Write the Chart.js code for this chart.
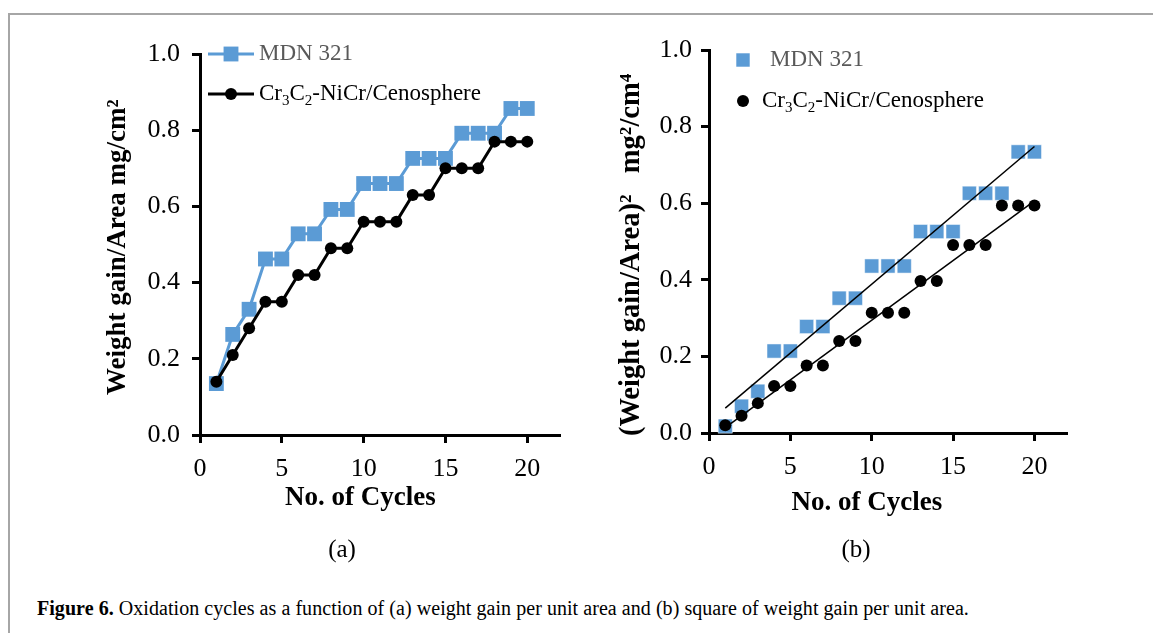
<!DOCTYPE html>
<html>
<head>
<meta charset="utf-8">
<script src="https://cdn.jsdelivr.net/npm/chart.js@4.4.1/dist/chart.umd.min.js"></script>
<style>
body { margin: 0; background: #fff; width: 1153px; height: 633px; overflow: hidden; position: relative; font-family: "Liberation Serif", serif; }
#frame { position: absolute; left: 8px; top: 13px; width: 1300px; height: 800px; border-top: 2px solid #a6a6a6; border-left: 2px solid #a6a6a6; }
#chartA { position: absolute; left: 0; top: 0; }
#chartB { position: absolute; left: 590px; top: 0; }
.sub { position: absolute; top: 535px; font-size: 25px; width: 60px; text-align: center; }
#caption { position: absolute; left: 37px; top: 597px; font-family: "Liberation Serif", serif; font-size: 20px; white-space: nowrap; letter-spacing: 0.05px; }
</style>
</head>
<body>
<div id="frame"></div>
<canvas id="chartA" width="580" height="540"></canvas>
<canvas id="chartB" width="490" height="540"></canvas>
<div class="sub" style="left:312px">(a)</div>
<div class="sub" style="left:826px">(b)</div>
<div id="caption"><b>Figure 6.</b> Oxidation cycles as a function of (a) weight gain per unit area and (b) square of weight gain per unit area.</div>
<script>
// values
var cycles = [1, 2, 3, 4, 5, 6, 7, 8, 9, 10, 11, 12, 13, 14, 15, 16, 17, 18, 19, 20];
var mdnGain = [0.135, 0.264, 0.33, 0.462, 0.462, 0.528, 0.528, 0.592, 0.592, 0.66, 0.66, 0.66, 0.726, 0.726, 0.726, 0.792, 0.792, 0.792, 0.857, 0.857];
var cenoGain = [0.14, 0.21, 0.28, 0.35, 0.35, 0.42, 0.42, 0.49, 0.49, 0.56, 0.56, 0.56, 0.63, 0.63, 0.70, 0.70, 0.70, 0.77, 0.77, 0.77];
var mdnGainSq = [0.018, 0.07, 0.109, 0.214, 0.214, 0.278, 0.278, 0.352, 0.352, 0.436, 0.436, 0.436, 0.526, 0.526, 0.526, 0.626, 0.626, 0.626, 0.734, 0.734];
var cenoGainSq = [0.02, 0.045, 0.078, 0.123, 0.123, 0.176, 0.176, 0.24, 0.24, 0.314, 0.314, 0.314, 0.397, 0.397, 0.491, 0.491, 0.491, 0.594, 0.594, 0.594];
var mdnTrendX = [1, 20];
var mdnTrendY = [0.065, 0.748];
var cenoTrendX = [1, 20];
var cenoTrendY = [0.014, 0.606];
var xTicks = [0, 5, 10, 15, 20];
var yTicks = [0, 0.2, 0.4, 0.6, 0.8, 1.0];
var mdnLabel = 'MDN 321';
var cenoLabel = [['Cr'], ['3', true], ['C'], ['2', true], ['-NiCr/Cenosphere']];
var xTitle = 'No. of Cycles';
var yTitleA = 'Weight gain/Area mg/cm\u00b2';
var yTitleB = '(Weight gain/Area)\u00b2   mg\u00b2/cm\u2074';

var BLUE = '#5b9bd5';
var FONT = 'Liberation Serif';

function pts(xs, ys) {
    return xs.map(function(x, i) { return {x: x, y: ys[i]}; });
}

function marker(ctx, style, x, y, r, color) {
    ctx.fillStyle = color;
    ctx.beginPath();
    if (style === 'rect') {
        var s = r * Math.SQRT1_2;
        ctx.rect(x - s, y - s, 2 * s, 2 * s);
    } else {
        ctx.arc(x, y, r, 0, Math.PI * 2);
    }
    ctx.fill();
}

function richText(ctx, parts, x, y, size, color) {
    ctx.fillStyle = color;
    ctx.textBaseline = 'middle';
    ctx.textAlign = 'left';
    parts.forEach(function(p) {
        if (p[1]) {
            ctx.font = Math.round(size * 0.65) + 'px "' + FONT + '"';
            ctx.fillText(p[0], x, y + size * 0.3);
        } else {
            ctx.font = size + 'px "' + FONT + '"';
            ctx.fillText(p[0], x, y);
        }
        x += ctx.measureText(p[0]).width;
    });
}

// legend drawn inside the plot, items placed relative to the chart area
var legendPlugin = {
    id: 'innerLegend',
    afterDraw: function(chart, args, opts) {
        var ctx = chart.ctx, a = chart.chartArea;
        ctx.save();
        opts.items.forEach(function(it) {
            var x = a.left + it.dx, y = a.top + it.dy;
            if (it.line) {
                ctx.strokeStyle = it.color;
                ctx.lineWidth = 3;
                ctx.beginPath();
                ctx.moveTo(x - 23, y);
                ctx.lineTo(x + 23, y);
                ctx.stroke();
            }
            marker(ctx, it.style, x, y, it.radius, it.color);
            richText(ctx, it.parts, a.left + it.tx, y, 23, it.textColor);
        });
        ctx.restore();
    }
};

// axis titles, placed through the scales
var titlePlugin = {
    id: 'axisTitles',
    afterDraw: function(chart, args, o) {
        var ctx = chart.ctx, xs = chart.scales.x, ys = chart.scales.y;
        ctx.save();
        ctx.fillStyle = '#000';
        ctx.textAlign = 'center';
        ctx.textBaseline = 'middle';
        ctx.font = 'bold 27px "' + FONT + '"';
        ctx.fillText(o.xText, xs.getPixelForValue(o.xAt), chart.chartArea.bottom + o.xGap);
        ctx.font = 'bold ' + o.ySize + 'px "' + FONT + '"';
        ctx.translate(o.yLeft, ys.getPixelForValue(o.yAt));
        ctx.rotate(-Math.PI / 2);
        ctx.fillText(o.yText, 0, 0);
        ctx.restore();
    }
};

function xAxis(h, labelPad) {
    return {
        type: 'linear', min: 0, max: 22,
        afterBuildTicks: function(s) { s.ticks = xTicks.map(function(v) { return {value: v}; }); },
        afterFit: function(s) { s.height = h; },
        ticks: {color: '#000', font: {family: FONT, size: 26}, padding: labelPad, maxRotation: 0},
        grid: {display: true, drawOnChartArea: false, drawTicks: true, tickLength: 8, tickWidth: 3, tickColor: '#000'},
        border: {display: true, color: '#000', width: 3}
    };
}

function yAxis(w, labelPad) {
    return {
        type: 'linear', min: 0, max: 1,
        afterBuildTicks: function(s) { s.ticks = yTicks.map(function(v) { return {value: v}; }); },
        afterFit: function(s) { s.width = w; },
        ticks: {color: '#000', font: {family: FONT, size: 26}, padding: labelPad, callback: function(v) { return v.toFixed(1); }},
        grid: {display: true, drawOnChartArea: false, drawTicks: true, tickLength: 8, tickWidth: 3, tickColor: '#000'},
        border: {display: true, color: '#000', width: 3}
    };
}

var basePlugins = {legend: {display: false}, tooltip: {enabled: false}};

new Chart(document.getElementById('chartA').getContext('2d'), {
    type: 'scatter',
    data: {
        datasets: [{
            label: 'Cr3C2-NiCr/Cenosphere',
            data: pts(cycles, cenoGain),
            showLine: true,
            borderColor: '#000',
            backgroundColor: '#000',
            borderWidth: 3,
            pointStyle: 'circle',
            pointRadius: 6,
            pointBorderWidth: 0,
            order: 0
        }, {
            label: mdnLabel,
            data: pts(cycles, mdnGain),
            showLine: true,
            borderColor: BLUE,
            backgroundColor: BLUE,
            borderWidth: 3,
            pointStyle: 'rect',
            pointRadius: 10.5,
            pointBorderWidth: 0,
            order: 1
        }]
    },
    options: {
        responsive: false,
        animation: false,
        events: [],
        clip: false,
        layout: {padding: {top: 54, right: 20, left: 0, bottom: 0}},
        scales: {x: xAxis(105, 11), y: yAxis(200, 12)},
        plugins: Object.assign({}, basePlugins, {
            innerLegend: {items: [
                {dx: 31, dy: 0, tx: 59, line: true, style: 'rect', radius: 10.5, color: BLUE, textColor: '#595959', parts: [[mdnLabel]]},
                {dx: 31, dy: 40, tx: 59, line: true, style: 'circle', radius: 6, color: '#000', textColor: '#000', parts: cenoLabel}
            ]},
            axisTitles: {xText: xTitle, xAt: 9.8, xGap: 63, yText: yTitleA, yAt: 0.493, yLeft: 118, ySize: 27}
        })
    },
    plugins: [legendPlugin, titlePlugin]
});

new Chart(document.getElementById('chartB').getContext('2d'), {
    type: 'scatter',
    data: {
        datasets: [{
            label: 'trend MDN',
            data: pts(mdnTrendX, mdnTrendY),
            showLine: true,
            borderColor: '#000',
            borderWidth: 1.5,
            pointRadius: 0,
            order: 0
        }, {
            label: 'trend Ceno',
            data: pts(cenoTrendX, cenoTrendY),
            showLine: true,
            borderColor: '#000',
            borderWidth: 1.5,
            pointRadius: 0,
            order: 0
        }, {
            label: 'Cr3C2-NiCr/Cenosphere',
            data: pts(cycles, cenoGainSq),
            backgroundColor: '#000',
            pointStyle: 'circle',
            pointRadius: 6,
            pointBorderWidth: 0,
            order: 1
        }, {
            label: mdnLabel,
            data: pts(cycles, mdnGainSq),
            backgroundColor: BLUE,
            borderColor: '#ffffff',
            pointStyle: 'rect',
            pointRadius: 10,
            pointBorderWidth: 0.5,
            order: 2
        }]
    },
    options: {
        responsive: false,
        animation: false,
        events: [],
        clip: false,
        layout: {padding: {top: 50, right: 13, left: 0, bottom: 0}},
        scales: {x: xAxis(107, 11), y: yAxis(119, 9)},
        plugins: Object.assign({}, basePlugins, {
            innerLegend: {items: [
                {dx: 34, dy: 10, tx: 61, line: false, style: 'rect', radius: 9.5, color: BLUE, textColor: '#595959', parts: [[mdnLabel]]},
                {dx: 34, dy: 51, tx: 53, line: false, style: 'circle', radius: 6, color: '#000', textColor: '#000', parts: cenoLabel}
            ]},
            axisTitles: {xText: xTitle, xAt: 9.7, xGap: 70, yText: yTitleB, yAt: 0.465, yLeft: 42, ySize: 28.5}
        })
    },
    plugins: [legendPlugin, titlePlugin]
});
</script>
</body>
</html>
